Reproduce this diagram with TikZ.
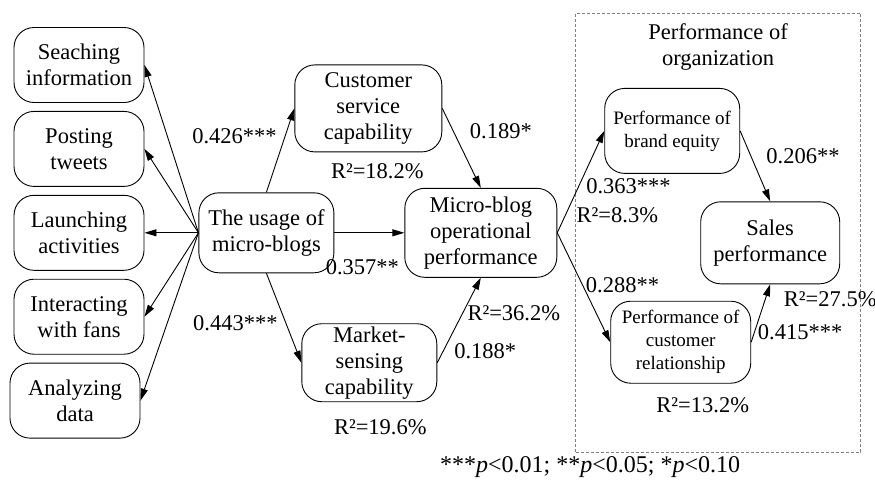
\documentclass[tikz,border=0pt]{standalone}
\usepackage{fontspec}
\setmainfont{Liberation Serif}
\usetikzlibrary{positioning,arrows.meta}

\begin{document}
\begin{tikzpicture}[x=1pt, y=1pt, node distance={8pt}, inner sep=2pt, line width=0.9pt,
    font=\fontsize{22.5}{26}\selectfont,
    main/.style = {draw, rectangle, rounded corners=20pt, align=center, minimum width=130pt, minimum height=75pt},
    small/.style = {font=\fontsize{19}{23}\selectfont},
    arr/.style = {-{Triangle[length=12pt,width=7pt]}},
    frame/.style = {draw=gray, line width=0.7pt, dash pattern=on 3pt off 2pt}
    ]
\useasboundingbox (0,0) rectangle (875,-480);

% uses of micro-blogs
\node[main] (0) at (79,-65) {Seaching\\information};
\node[main] (1) [below=of 0] {Posting\\tweets};
\node[main] (2) [below=of 1] {Launching\\activities};
\node[main] (3) [below=of 2] {Interacting\\with fans};
\node[main] (4) [below=of 3, xshift=-4pt] {Analyzing\\data};

% capabilities
\node[main, minimum width=135pt, minimum height=80pt] (5) [right=54pt of 2] {The usage of\\micro-blogs};
\node[main, minimum width=147pt, minimum height=87pt] (6) [above right=40pt and -40pt of 5] {Customer\\service\\capability};
\node[main, minimum width=135pt, minimum height=78pt] (7) [below right=50pt and -33pt of 5] {Market-\\sensing\\capability};
\node[main, minimum width=152pt, minimum height=89pt] (8) [right=70pt of 5] {Micro-blog\\operational\\performance};

% organization
\node[main, small, minimum width=135pt, minimum height=85pt] (9) [above right=14pt and 47pt of 8] {Performance of\\brand equity};
\node[main, small, minimum width=140pt, minimum height=82pt] (10) [below right=23pt and 53pt of 8] {Performance of\\customer\\relationship};
\node[main, minimum width=139pt, minimum height=82pt] (11) [right=143pt of 8, yshift=-10pt] {Sales\\performance};
\node[frame, minimum width=285pt, minimum height=439pt] (12) [right=18pt of 8] {};
\node[align=center] (13) [below=8pt of 12.north] {Performance of\\organization};

\draw[arr] (5.west) -- (0.east);
\draw[arr] (5.west) -- (1.east);
\draw[arr] (5.west) -- (2.east);
\draw[arr] (5.west) -- (3.east);
\draw[arr] (5.west) -- (4.east);

\draw[arr] (5.north) -- node[pos=0.67, left=6pt] (c1) {0.426***} (6.west);
\draw[arr] (5.south) -- node[pos=0.56, left=6pt] (c2) {0.443***} (7.west);
\draw[arr] (5.east) -- node[pos=0.4, below=24pt] (c3) {0.357**} (8.west);
\draw[arr] (6.east) -- node[pos=0.29, right=14pt] (c4) {0.189*} (8.north);
\draw[arr] (7.east) -- node[pos=0.13, right=9pt] (c5) {0.188*} (8.south);
\draw[arr] (8.east) -- node[pos=0.46, right=5pt] (c6) {0.363***}
    node[pos=0.17, right=9pt] (r4) {R²=8.3\%} (9.west);
\draw[arr] (8.east) -- node[pos=0.475, right=1pt] (c7) {0.288**} (10.west);
\draw[arr] (9.east) -- node[pos=0.36, right=13pt] (c8) {0.206**} (11.north);
\draw[arr] (10.east) -- node[pos=0.175, right=1pt] (c9) {0.415***} (11.south);

% explained variance
\node (r1) [below=9pt of 6, xshift=9pt] {R²=18.2\%};
\node (r2) [below=15pt of 7, xshift=11pt] {R²=19.6\%};
\node (r3) [below=25pt of 8, xshift=33pt] {R²=36.2\%};
\node (r5) [below=5pt of 11, xshift=60pt] {R²=27.5\%};
\node (r6) [below=11pt of 10, xshift=22pt] {R²=13.2\%};

\node (14) [below=1pt of 12, xshift=-128pt, font=\fontsize{24}{26}\selectfont] {***\textit{p}<0.01; **\textit{p}<0.05; *\textit{p}<0.10};

\end{tikzpicture}
\end{document}
